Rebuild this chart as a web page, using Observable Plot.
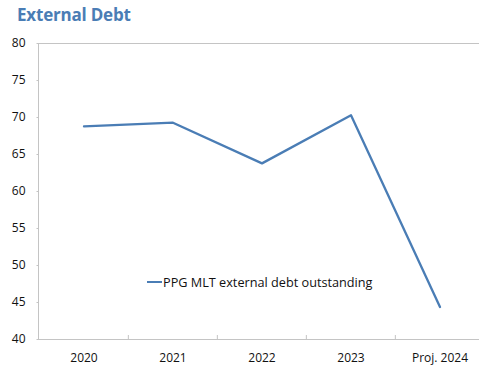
<!DOCTYPE html>
<html>
<head>
<meta charset="utf-8">
<script src="https://cdn.jsdelivr.net/npm/d3@7"></script>
<script src="https://cdn.jsdelivr.net/npm/@observablehq/plot@0.6"></script>
<style>
  html, body { margin: 0; padding: 0; background: #fff; }
  body { width: 479px; height: 368px; overflow: hidden; font-family: "Open Sans", sans-serif; }
  #wrap { position: relative; width: 479px; height: 368px; }
  #title { position: absolute; left: 17px; top: 3px; font-size: 17px; font-weight: 700; color: #4a7db5; letter-spacing: -0.2px; }
  #chart { position: absolute; left: 0; top: 30px; }
  #legend { position: absolute; left: 147px; top: 273px; font-size: 12.7px; color: #111; display: flex; align-items: center; white-space: nowrap; }
  #legend .sw { display: inline-block; width: 15px; height: 2px; background: #4a7db5; margin-right: 1px; }
</style>
</head>
<body>
<div id="wrap">
  <div id="title">External Debt</div>
  <div id="chart"></div>
  <div id="legend"><span class="sw"></span><span>PPG MLT external debt outstanding</span></div>
</div>
<script>
const categories = ["2020", "2021", "2022", "2023", "Proj. 2024"];
const debtValues = [68.8, 69.3, 63.8, 70.3, 44.4];
const yTicks = [40, 45, 50, 55, 60, 65, 70, 75, 80];
const seriesName = "PPG MLT external debt outstanding";

const data = categories.map((c, i) => ({year: c, value: debtValues[i]}));

const left = 38, right = 484.5;
const bw = (right - left) / categories.length;
const H = 338, mTop = 13, mBottom = 29;
const plotH = H - mTop - mBottom;
const grey = "#c4c4c4";
const blue = "#4a7db5";

const chart = Plot.plot({
  width: 479,
  height: H,
  marginLeft: left,
  marginRight: 0,
  marginTop: mTop,
  marginBottom: mBottom,
  style: {fontFamily: "'Open Sans', sans-serif", fontSize: "12px", color: "#111", background: "transparent"},
  x: {type: "band", domain: categories, range: [left, right], padding: 0, label: null},
  y: {domain: [40, 80], label: null},
  marks: [
    Plot.frame({stroke: grey}),
    Plot.ruleY(yTicks, {y: d => d, stroke: grey, insetRight: (right - left) - 4}),
    Plot.ruleX(categories.slice(1), {x: d => d, dx: -bw / 2, stroke: grey, insetTop: plotH - 4}),
    Plot.axisY({ticks: yTicks, tickSize: 0, tickPadding: 13, tickFormat: d => String(d), fontSize: 12}),
    Plot.axisX({tickSize: 0, tickPadding: 14, fontSize: 12}),
    Plot.lineY(data, {x: "year", y: "value", stroke: blue, strokeWidth: 2.3})
  ]
});
document.getElementById("chart").appendChild(chart);
</script>
</body>
</html>
